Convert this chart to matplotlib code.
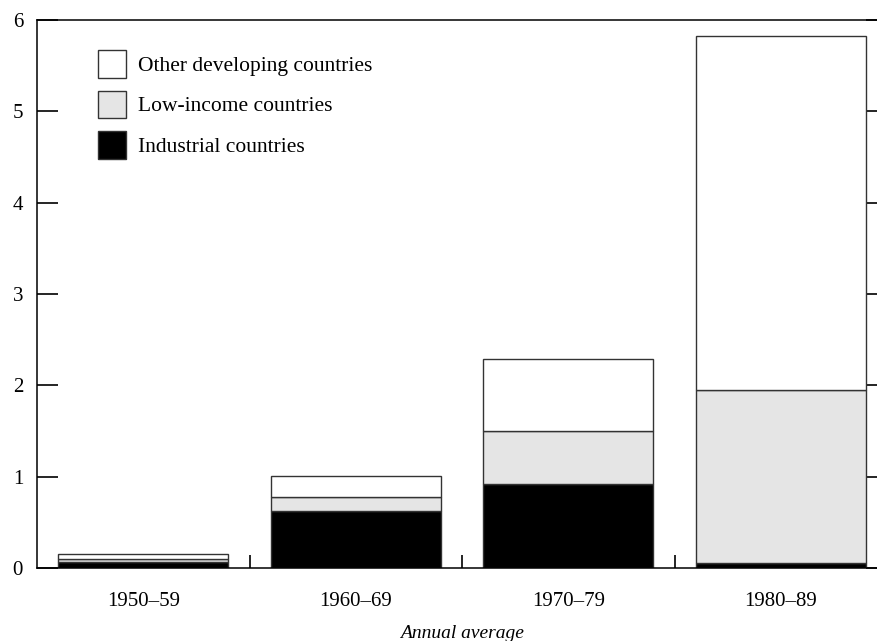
import numpy as np
import matplotlib
matplotlib.use("Agg")
import matplotlib.pyplot as plt
from matplotlib.patches import Patch

# ---------------------------------------------------------
# Data
# ---------------------------------------------------------
periods = ["1950\u201359", "1960\u201369", "1970\u201379", "1980\u201389"]
industrial = [0.07, 0.62, 0.92, 0.06]
low_income = [0.03, 0.16, 0.58, 1.89]
other_developing = [0.05, 0.23, 0.79, 3.88]

series_labels = ["Industrial countries", "Low-income countries",
                 "Other developing countries"]
series_colors = ["#000000", "#e5e5e5", "#ffffff"]

y_ticks = [0, 1, 2, 3, 4, 5, 6]

plt.rcParams["font.family"] = ["Liberation Serif", "DejaVu Serif"]

fig = plt.figure(figsize=(8.77, 6.41), dpi=100)
ax = fig.add_axes([37 / 877, 73 / 641, 850 / 877, 548 / 641])

x = np.arange(len(periods))
bottom = np.zeros(len(periods))
handles = []
for vals, lab, col in zip([industrial, low_income, other_developing],
                          series_labels, series_colors):
    ax.bar(x, vals, width=0.8, bottom=bottom, color=col,
           edgecolor="#333333", linewidth=1.0, zorder=2)
    bottom += np.array(vals)
    handles.append(Patch(facecolor=col, edgecolor="#333333",
                         linewidth=1.0, label=lab))

ax.set_xlim(-0.5, len(periods) - 0.5)
ax.set_ylim(0, 6)

# y axis: ticks inward on both sides, labels left only
ax.set_yticks(y_ticks)
ax.tick_params(axis="y", which="major", direction="in", length=15,
               width=1.2, labelsize=15, pad=10, left=True, right=True)

# x axis: category labels without marks, separators as minor ticks
ax.set_xticks(x)
ax.set_xticklabels(periods)
ax.set_xticks(x[:-1] + 0.5, minor=True)
ax.tick_params(axis="x", which="major", length=0, labelsize=15, pad=17)
ax.tick_params(axis="x", which="minor", direction="in", length=9.5,
               width=1.2)

for side in ["left", "top", "bottom"]:
    ax.spines[side].set_linewidth(1.1)
ax.spines["right"].set_visible(False)

ax.set_xlabel("Annual average", fontsize=14, style="italic", labelpad=10)

# legend (top entry = top of stack)
ax.legend(handles=handles[::-1], loc="upper left",
          bbox_to_anchor=(61 / 850, 1 - 30 / 548), frameon=False,
          fontsize=15.5, handlelength=1.3, handleheight=1.6,
          labelspacing=0.6, handletextpad=0.55, borderpad=0,
          borderaxespad=0)

fig.savefig("out.png", dpi=100)
